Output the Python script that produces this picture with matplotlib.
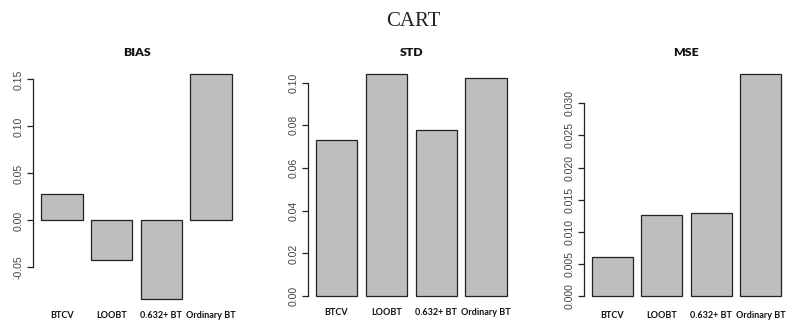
import numpy as np
import matplotlib.pyplot as plt

methods = ["BTCV", "LOOBT", "0.632+ BT", "Ordinary BT"]
bias = [0.028, -0.042, -0.0835, 0.156]
std = [0.0731, 0.1042, 0.0778, 0.1021]
mse = [0.00603, 0.01257, 0.01288, 0.0346]

bias_ticks = [-0.05, 0.00, 0.05, 0.10, 0.15]
std_ticks = [0.00, 0.02, 0.04, 0.06, 0.08, 0.10]
mse_ticks = [0.000, 0.005, 0.010, 0.015, 0.020, 0.025, 0.030]

W, H = 786, 320
fig = plt.figure(figsize=(W / 100, H / 100), dpi=100)


def rbarplot(rect, values, ticks, fmt, title, pad):
    # rect in pixels: left, top, right, bottom (from top of image)
    l, t, r, b = rect
    ax = fig.add_axes([l / W, (H - b) / H, (r - l) / W, (b - t) / H])
    # R style barplot: width 1, space 0.2
    x = 0.2 + np.arange(len(values)) * 1.2 + 0.5
    ax.bar(x, values, width=1.0, color="#bebebe", edgecolor="#222222",
           linewidth=0.9)
    xl = (x[0] - 0.5, x[-1] + 0.5)
    ext = (xl[1] - xl[0]) * 0.04
    ax.set_xlim(xl[0] - ext, xl[1] + ext)
    lo, hi = min(0, min(values)), max(0, max(values))
    ext = (hi - lo) * 0.04
    ax.set_ylim(lo - ext, hi + ext)

    for s in ["top", "right", "bottom"]:
        ax.spines[s].set_visible(False)
    ax.spines["left"].set_bounds(ticks[0], ticks[-1])
    ax.spines["left"].set_linewidth(0.9)
    ax.spines["left"].set_color("#222222")

    ax.set_yticks(ticks)
    ax.set_yticklabels([format(v, fmt) for v in ticks], rotation=90,
                       va="center", family="Liberation Sans", fontsize=7.6,
                       color="#444444")
    ax.tick_params(axis="y", length=4, width=0.9, color="#222222", pad=3)

    ax.set_xticks(x)
    ax.set_xticklabels(methods, family="Lato", fontweight="bold",
                       fontsize=6.5, color="#111111")
    ax.tick_params(axis="x", length=0, pad=pad)

    ax.set_title(title, family="Lato", fontweight="heavy", fontsize=8.8,
                 pad=(t - 52) * 0.72 - 3, color="#111111")
    ax.set_facecolor("none")
    return ax


rbarplot((33.4, 64.7, 239.6, 308), bias, bias_ticks, ".2f", "BIAS", 2.5)
rbarplot((308, 64.8, 514.7, 305), std, std_ticks, ".2f", "STD", 2.5)
rbarplot((584.1, 64.8, 788.9, 305), mse, mse_ticks, ".3f", "MSE", 4.5)

fig.text(413 / W, 1 - 21 / H, "CART", family="Liberation Serif",
         fontsize=15, ha="center", va="center", color="#222222")

fig.savefig("out.png", dpi=100)
